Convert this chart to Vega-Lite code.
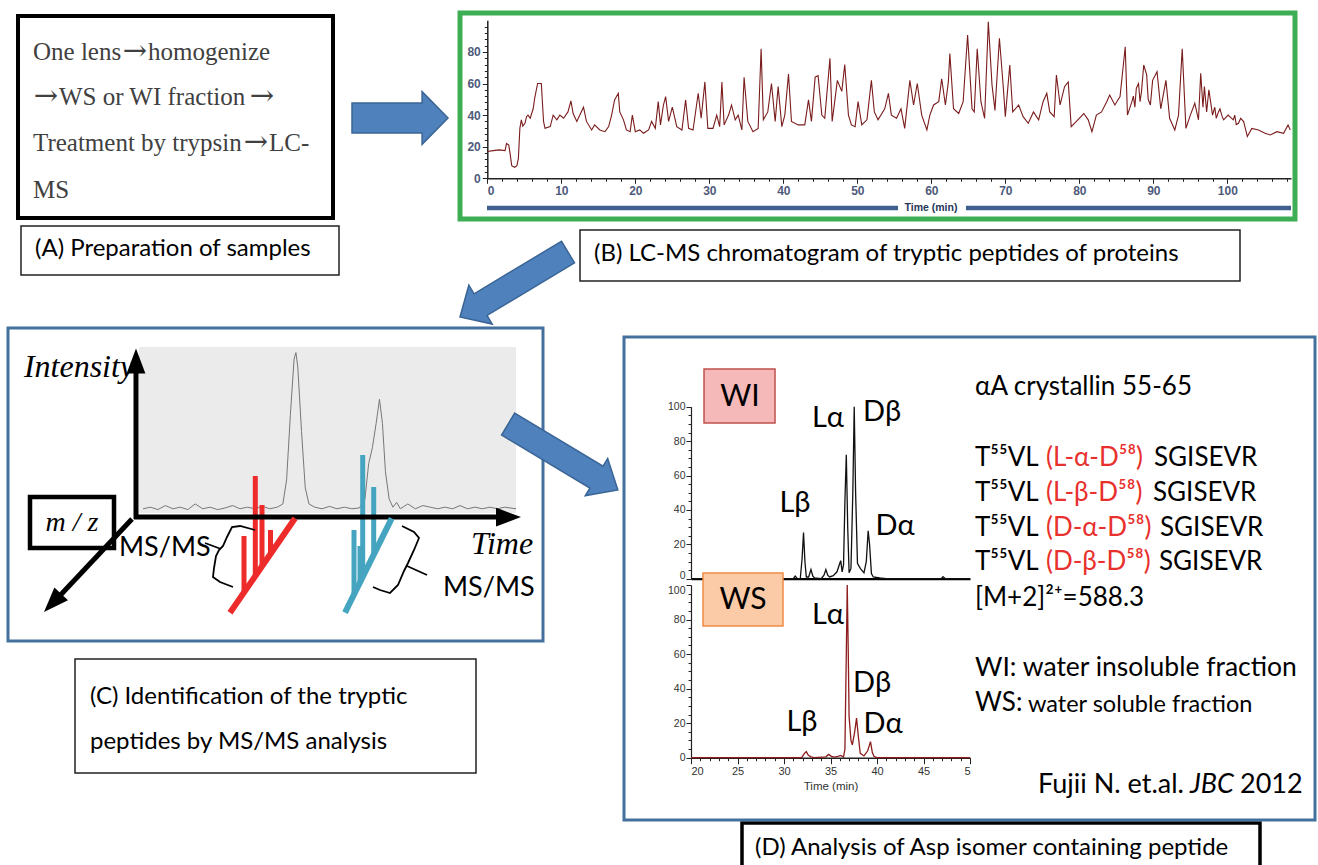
{
"$schema":"https://vega.github.io/schema/vega-lite/v6.json",
"width":1318,"height":865,"padding":0,
"autosize":{"type":"fit","contains":"padding"},
"background":"white",
"config":{"view":{"stroke":null},"axis":{"grid":false,"labelFont":"Liberation Sans","domainColor":"#222","tickColor":"#222"}},
"datasets":{
"chromB":[{"t":0,"v":17},{"t":0.8,"v":17.5},{"t":1.6,"v":18},{"t":2.4,"v":17.5},{"t":2.6,"v":22},{"t":2.9,"v":21},{"t":3.1,"v":15},{"t":3.3,"v":8},{"t":3.7,"v":7},{"t":4.0,"v":8},{"t":4.2,"v":12.6},{"t":4.4,"v":31.6},{"t":4.6,"v":37},{"t":4.8,"v":33},{"t":5.1,"v":35},{"t":5.3,"v":39},{"t":5.5,"v":40},{"t":5.8,"v":38},{"t":6.2,"v":44},{"t":6.4,"v":50.6},{"t":6.8,"v":60},{"t":7.3,"v":60},{"t":7.6,"v":36},{"t":7.8,"v":31.6},{"t":8.5,"v":32.7},{"t":8.9,"v":40},{"t":9.4,"v":37},{"t":9.8,"v":40},{"t":10.3,"v":38},{"t":10.9,"v":42},{"t":11.3,"v":49},{"t":11.6,"v":41},{"t":12.1,"v":36},{"t":12.5,"v":40},{"t":13.0,"v":45},{"t":13.4,"v":36},{"t":14.1,"v":30.6},{"t":14.5,"v":33.8},{"t":15.2,"v":30.6},{"t":15.9,"v":29.5},{"t":16.4,"v":32.7},{"t":16.8,"v":40},{"t":17.2,"v":49.6},{"t":17.7,"v":53.8},{"t":17.9,"v":42},{"t":18.4,"v":37},{"t":18.8,"v":30.6},{"t":19.3,"v":29.5},{"t":19.6,"v":40},{"t":20.0,"v":29.5},{"t":20.6,"v":30.6},{"t":21.1,"v":28.5},{"t":21.8,"v":30.6},{"t":22.2,"v":36},{"t":22.7,"v":31.6},{"t":23.1,"v":48.5},{"t":23.4,"v":33.8},{"t":23.8,"v":46.4},{"t":24.1,"v":51.7},{"t":24.5,"v":36},{"t":25.0,"v":45},{"t":25.6,"v":32.7},{"t":26.3,"v":30.6},{"t":26.8,"v":49.6},{"t":27.2,"v":31.6},{"t":27.8,"v":30.6},{"t":28.5,"v":53.8},{"t":28.9,"v":38},{"t":29.4,"v":61},{"t":29.8,"v":31.6},{"t":30.5,"v":31.6},{"t":31.0,"v":40},{"t":31.4,"v":32.7},{"t":31.7,"v":61},{"t":32.0,"v":33.8},{"t":32.6,"v":40},{"t":33.0,"v":46.4},{"t":33.5,"v":37},{"t":33.9,"v":40},{"t":34.4,"v":30.6},{"t":34.7,"v":64},{"t":35.2,"v":36},{"t":35.9,"v":29.5},{"t":36.6,"v":31.6},{"t":37.0,"v":82},{"t":37.3,"v":37},{"t":37.9,"v":42},{"t":38.4,"v":60},{"t":38.9,"v":36},{"t":39.3,"v":58},{"t":39.8,"v":32.7},{"t":40.2,"v":40},{"t":40.7,"v":66},{"t":41.1,"v":36},{"t":42.0,"v":33.8},{"t":42.9,"v":33.8},{"t":43.4,"v":49.6},{"t":43.8,"v":36},{"t":44.3,"v":64},{"t":44.7,"v":65},{"t":45.2,"v":40},{"t":45.6,"v":38},{"t":46.3,"v":76},{"t":46.6,"v":36},{"t":47.0,"v":50.6},{"t":47.3,"v":62},{"t":47.9,"v":55},{"t":48.3,"v":72},{"t":48.8,"v":40},{"t":49.2,"v":33.8},{"t":49.7,"v":32.7},{"t":50.1,"v":48.5},{"t":50.6,"v":33.8},{"t":51.3,"v":37},{"t":51.9,"v":62},{"t":52.3,"v":42},{"t":52.8,"v":37},{"t":53.7,"v":44},{"t":54.2,"v":53.8},{"t":54.6,"v":40},{"t":55.3,"v":38},{"t":55.9,"v":44},{"t":56.4,"v":31.6},{"t":57.1,"v":62},{"t":57.6,"v":46.4},{"t":58.1,"v":60},{"t":58.7,"v":40},{"t":59.4,"v":30.6},{"t":59.8,"v":40},{"t":60.3,"v":46.4},{"t":61.0,"v":48.5},{"t":61.4,"v":63},{"t":61.9,"v":46.4},{"t":62.3,"v":61},{"t":62.5,"v":79},{"t":63.0,"v":44},{"t":63.7,"v":41},{"t":64.3,"v":48.5},{"t":64.9,"v":90.7},{"t":65.5,"v":44},{"t":65.8,"v":42},{"t":66.2,"v":82},{"t":66.7,"v":48.5},{"t":67.2,"v":38},{"t":67.7,"v":99},{"t":68.2,"v":59},{"t":68.6,"v":43},{"t":69.2,"v":88.6},{"t":69.7,"v":59},{"t":70.0,"v":39},{"t":70.6,"v":71.7},{"t":71.0,"v":42},{"t":71.8,"v":46.4},{"t":72.4,"v":39},{"t":73.1,"v":34.8},{"t":73.8,"v":42},{"t":74.5,"v":37},{"t":75.1,"v":48.5},{"t":75.6,"v":53.8},{"t":76.0,"v":42},{"t":76.6,"v":39},{"t":76.9,"v":65.4},{"t":77.4,"v":46.4},{"t":78.0,"v":58},{"t":78.5,"v":61},{"t":78.9,"v":32.7},{"t":79.6,"v":36},{"t":80.6,"v":41},{"t":81.2,"v":37},{"t":81.7,"v":29.5},{"t":82.3,"v":40},{"t":83.0,"v":42},{"t":83.7,"v":48.5},{"t":84.1,"v":52.7},{"t":84.8,"v":46.4},{"t":85.5,"v":51.7},{"t":86.2,"v":83.3},{"t":86.5,"v":40},{"t":87.1,"v":48.5},{"t":87.3,"v":52},{"t":87.5,"v":45},{"t":87.7,"v":57},{"t":88.0,"v":60},{"t":88.2,"v":48.5},{"t":88.4,"v":55},{"t":88.7,"v":71.7},{"t":89.1,"v":65.4},{"t":89.3,"v":50},{"t":89.6,"v":46.4},{"t":89.9,"v":62},{"t":90.5,"v":67.5},{"t":91.0,"v":44},{"t":91.7,"v":62},{"t":92.2,"v":38},{"t":92.9,"v":30.6},{"t":93.4,"v":40},{"t":93.9,"v":82},{"t":94.4,"v":31.6},{"t":95.0,"v":40},{"t":95.6,"v":47.5},{"t":96.1,"v":37},{"t":96.4,"v":66.5},{"t":96.7,"v":45},{"t":96.9,"v":58},{"t":97.2,"v":42},{"t":97.5,"v":56},{"t":98.0,"v":40},{"t":98.3,"v":45},{"t":98.5,"v":38},{"t":98.8,"v":42},{"t":99.0,"v":44},{"t":99.3,"v":39},{"t":99.5,"v":37},{"t":100.1,"v":40},{"t":100.8,"v":37},{"t":101.0,"v":40},{"t":101.2,"v":34},{"t":101.5,"v":34.8},{"t":101.8,"v":38},{"t":102.2,"v":35.9},{"t":102.7,"v":26.4},{"t":103.3,"v":31.6},{"t":104.2,"v":30.6},{"t":105.1,"v":28.5},{"t":105.8,"v":27.4},{"t":106.7,"v":29.5},{"t":107.6,"v":28.5},{"t":108.2,"v":33.8},{"t":108.5,"v":30.6}],
"wi":[{"t":20,"v":0},{"t":31.0,"v":0},{"t":31.2,"v":1.5},{"t":31.45,"v":0},{"t":31.75,"v":0},{"t":31.95,"v":12},{"t":32.1,"v":26.8},{"t":32.25,"v":10},{"t":32.4,"v":1},{"t":32.65,"v":1},{"t":32.9,"v":5.3},{"t":33.1,"v":1.5},{"t":33.3,"v":0.4},{"t":34.0,"v":0},{"t":34.3,"v":2},{"t":34.5,"v":5.3},{"t":34.7,"v":2},{"t":34.9,"v":1},{"t":35.3,"v":1.8},{"t":35.7,"v":4},{"t":36.0,"v":9},{"t":36.1,"v":10.5},{"t":36.25,"v":4},{"t":36.4,"v":8},{"t":36.55,"v":45},{"t":36.7,"v":72},{"t":36.85,"v":30},{"t":37.0,"v":3.4},{"t":37.2,"v":6},{"t":37.4,"v":50},{"t":37.55,"v":100},{"t":37.7,"v":50},{"t":37.9,"v":9},{"t":38.2,"v":6},{"t":38.6,"v":3.4},{"t":38.85,"v":10},{"t":39.05,"v":27.9},{"t":39.2,"v":20},{"t":39.4,"v":3},{"t":39.6,"v":1},{"t":40.3,"v":0.4},{"t":41,"v":0},{"t":46.9,"v":0},{"t":47.1,"v":1.2},{"t":47.35,"v":0},{"t":50,"v":0}],
"ws":[{"t":20,"v":0},{"t":31.9,"v":0},{"t":32.2,"v":2.5},{"t":32.4,"v":3.5},{"t":32.6,"v":1.5},{"t":32.9,"v":0.5},{"t":33.2,"v":0},{"t":34.5,"v":0.5},{"t":34.8,"v":1.9},{"t":35.1,"v":0.8},{"t":35.4,"v":0.3},{"t":35.8,"v":0.8},{"t":36.1,"v":1.3},{"t":36.4,"v":0.4},{"t":36.55,"v":5},{"t":36.7,"v":60},{"t":36.8,"v":100},{"t":36.9,"v":65},{"t":37.0,"v":23.8},{"t":37.2,"v":10},{"t":37.35,"v":7.4},{"t":37.6,"v":15},{"t":37.8,"v":22.9},{"t":38.0,"v":12},{"t":38.2,"v":2.5},{"t":38.6,"v":1},{"t":39.0,"v":4},{"t":39.3,"v":9.3},{"t":39.5,"v":3},{"t":39.7,"v":0.6},{"t":40,"v":0},{"t":50,"v":0}],
"traceC":[{"t":0,"v":2},{"t":2,"v":3},{"t":4,"v":1.5},{"t":6,"v":4},{"t":8,"v":2},{"t":10,"v":3},{"t":12,"v":1.5},{"t":14,"v":5},{"t":16,"v":2},{"t":18,"v":3},{"t":20,"v":1.5},{"t":22,"v":2.5},{"t":24,"v":4},{"t":26,"v":2},{"t":28,"v":3},{"t":30,"v":2},{"t":32,"v":3.5},{"t":34,"v":2},{"t":36,"v":3},{"t":37.5,"v":5},{"t":38.5,"v":20},{"t":39.5,"v":60},{"t":40.5,"v":95},{"t":41,"v":99},{"t":41.5,"v":90},{"t":42.5,"v":50},{"t":43.5,"v":15},{"t":44.5,"v":5},{"t":46,"v":3},{"t":48,"v":2},{"t":50,"v":3.5},{"t":52,"v":2},{"t":54,"v":3},{"t":56,"v":2},{"t":58,"v":2.5},{"t":59.5,"v":8},{"t":60.5,"v":30},{"t":61.5,"v":40},{"t":62.5,"v":55},{"t":63.4,"v":70},{"t":64.2,"v":55},{"t":65,"v":25},{"t":66,"v":8},{"t":67,"v":3},{"t":68,"v":6},{"t":69,"v":2},{"t":71,"v":5},{"t":73,"v":2},{"t":75,"v":4},{"t":77,"v":3},{"t":79,"v":2},{"t":81,"v":3},{"t":83,"v":2},{"t":85,"v":4},{"t":87,"v":2},{"t":89,"v":3},{"t":91,"v":2},{"t":93,"v":3},{"t":95,"v":2},{"t":97,"v":3},{"t":100,"v":2}]
},
"layer":[
{
"encoding":{"x":{"field":"x","type":"quantitative","scale":{"domain":[0,1318],"range":[0,1318],"nice":false,"zero":false},"axis":null},"y":{"field":"y","type":"quantitative","scale":{"domain":[0,865],"range":[0,865],"nice":false,"zero":false},"axis":null}},
"layer":[
{"data":{"values":[{"x":460,"y":13,"x2":1295,"y2":219}]},"mark":{"type":"rect","fill":"transparent","stroke":"#3eae55","strokeWidth":5},"encoding":{"x2":{"field":"x2"},"y2":{"field":"y2"}}},
{"data":{"values":[{"x":18,"y":16,"x2":333,"y2":218}]},"mark":{"type":"rect","fill":"transparent","stroke":"#000000","strokeWidth":4},"encoding":{"x2":{"field":"x2"},"y2":{"field":"y2"}}},
{"data":{"values":[{"x":21,"y":226,"x2":339,"y2":275},{"x":580,"y":230,"x2":1240,"y2":281},{"x":75,"y":659,"x2":476,"y2":773}]},"mark":{"type":"rect","fill":"transparent","stroke":"#222222","strokeWidth":1.5},"encoding":{"x2":{"field":"x2"},"y2":{"field":"y2"}}},
{"data":{"values":[{"x":742,"y":823,"x2":1260,"y2":880}]},"mark":{"type":"rect","fill":"transparent","stroke":"#000000","strokeWidth":3.5,"clip":true},"encoding":{"x2":{"field":"x2"},"y2":{"field":"y2"}}},
{"data":{"values":[{"x":8,"y":328,"x2":543,"y2":641},{"x":624,"y":337,"x2":1315,"y2":820}]},"mark":{"type":"rect","fill":"transparent","stroke":"#44709d","strokeWidth":3},"encoding":{"x2":{"field":"x2"},"y2":{"field":"y2"}}},
{"data":{"values":[{"x":139,"y":347,"x2":516,"y2":513}]},"mark":{"type":"rect","fill":"#ebebeb"},"encoding":{"x2":{"field":"x2"},"y2":{"field":"y2"}}}
]
},
{
"data":{"name":"chromB"},
"encoding":{"x":{"field":"t","type":"quantitative","scale":{"domain":[0,108.6],"range":[487.3,1291],"nice":false,"zero":false},"axis":{"title":null,"orient":"bottom","offset":-686.7,"values":[0,10,20,30,40,50,60,70,80,90,100],"tickSize":5,"labelFontSize":12,"labelFontWeight":"bold","labelColor":"#4e5a7c","labelPadding":2,"domainWidth":1.5}},
"y":{"field":"v","type":"quantitative","scale":{"domain":[0,100],"range":[178.3,20.3],"nice":false,"zero":false},"axis":{"title":null,"orient":"left","offset":-487.3,"values":[0,20,40,60,80],"tickSize":5,"labelFontSize":12,"labelFontWeight":"bold","labelColor":"#4e5a7c","labelPadding":2,"domainWidth":1.5}}},
"layer":[{"mark":{"type":"line","color":"#7a1c1c","strokeWidth":1.1}}]
},
{
"data":{"name":"chromB"},
"encoding":{"x":{"field":"t","type":"quantitative","scale":{"domain":[0,108.6],"range":[487.3,1291],"nice":false,"zero":false},"axis":{"title":null,"orient":"bottom","offset":-686.7,"values":[2,4,6,8,12,14,16,18,22,24,26,28,32,34,36,38,42,44,46,48,52,54,56,58,62,64,66,68,72,74,76,78,82,84,86,88,92,94,96,98,102,104,106,108],"tickSize":3,"labels":false,"domain":false}},
"y":{"field":"v","type":"quantitative","scale":{"domain":[0,100],"range":[178.3,20.3],"nice":false,"zero":false},"axis":{"title":null,"orient":"left","offset":-487.3,"values":[4,8,12,16,24,28,32,36,44,48,52,56,64,68,72,76,84,88,92,96],"tickSize":3,"labels":false,"domain":false}}},
"layer":[{"mark":{"type":"line","opacity":0}}]
},
{
"data":{"name":"traceC"},
"encoding":{"x":{"field":"t","type":"quantitative","scale":{"domain":[0,100],"range":[143,516],"nice":false,"zero":false},"axis":null},"y":{"field":"v","type":"quantitative","scale":{"domain":[0,100],"range":[512,351],"nice":false,"zero":false},"axis":null}},
"layer":[{"mark":{"type":"line","color":"#777777","strokeWidth":1}}]
},
{
"data":{"name":"wi"},
"encoding":{"x":{"field":"t","type":"quantitative","scale":{"domain":[20,50],"range":[691,970],"nice":false,"zero":false},"axis":{"title":null,"orient":"bottom","offset":-286.3,"ticks":false,"labels":false,"domainWidth":2.2,"domainColor":"#000000"}},
"y":{"field":"v","type":"quantitative","scale":{"domain":[0,100],"range":[578.7,406.7],"nice":false,"zero":false},"axis":{"title":null,"orient":"left","offset":-691,"values":[0,20,40,60,80,100],"tickSize":5,"labelFontSize":10.5,"labelColor":"#333333","labelPadding":1,"domainWidth":1.2,"labelBaseline":{"condition":{"test":"datum.value == 0","value":"alphabetic"},"value":"middle"}}}},
"layer":[{"mark":{"type":"line","color":"#111111","strokeWidth":1.3}}]
},
{
"data":{"name":"wi"},
"encoding":{"x":{"field":"t","type":"quantitative","scale":{"domain":[20,50],"range":[691,970],"nice":false,"zero":false},"axis":null},
"y":{"field":"v","type":"quantitative","scale":{"domain":[0,100],"range":[578.7,406.7],"nice":false,"zero":false},"axis":{"title":null,"orient":"left","offset":-691,"values":[5,10,15,25,30,35,45,50,55,65,70,75,85,90,95],"tickSize":3,"labels":false,"domain":false}}},
"layer":[{"mark":{"type":"line","opacity":0}}]
},
{
"data":{"name":"ws"},
"encoding":{"x":{"field":"t","type":"quantitative","scale":{"domain":[20,50],"range":[691,970],"nice":false,"zero":false},"axis":{"title":"Time (min)","orient":"bottom","offset":-107.3,"values":[20,25,30,35,40,45,50],"labelExpr":"datum.value == 50 ? '5' : datum.label","tickSize":6,"labelFontSize":11,"labelColor":"#333333","labelPadding":2,"domainWidth":1.5,"titleFont":"Liberation Sans","titleFontSize":11.5,"titleFontWeight":"normal","titleColor":"#333333","titlePadding":4}},
"y":{"field":"v","type":"quantitative","scale":{"domain":[0,100],"range":[757.7,585],"nice":false,"zero":false},"axis":{"title":null,"orient":"left","offset":-691,"values":[0,20,40,60,80,100],"tickSize":5,"labelFontSize":10.5,"labelColor":"#333333","labelPadding":1,"domainWidth":1.2,"labelBaseline":{"condition":{"test":"datum.value == 100","value":"top"},"value":"middle"}}}},
"layer":[{"mark":{"type":"line","color":"#8c1c1c","strokeWidth":1.3}}]
},
{
"data":{"name":"ws"},
"encoding":{"x":{"field":"t","type":"quantitative","scale":{"domain":[20,50],"range":[691,970],"nice":false,"zero":false},"axis":{"title":null,"orient":"bottom","offset":-107.3,"values":[21,22,23,24,26,27,28,29,31,32,33,34,36,37,38,39,41,42,43,44,46,47,48,49],"tickSize":3,"labels":false,"domain":false}},
"y":{"field":"v","type":"quantitative","scale":{"domain":[0,100],"range":[757.7,585],"nice":false,"zero":false},"axis":{"title":null,"orient":"left","offset":-691,"values":[5,10,15,25,30,35,45,50,55,65,70,75,85,90,95],"tickSize":3,"labels":false,"domain":false}}},
"layer":[{"mark":{"type":"line","opacity":0}}]
},
{
"encoding":{"x":{"field":"x","type":"quantitative","scale":{"domain":[0,1318],"range":[0,1318],"nice":false,"zero":false},"axis":null},"y":{"field":"y","type":"quantitative","scale":{"domain":[0,865],"range":[0,865],"nice":false,"zero":false},"axis":null}},
"layer":[
{"data":{"values":[{"x":704,"y":369,"x2":775,"y2":423}]},"mark":{"type":"rect","fill":"#f6b9b9","stroke":"#c0504d","strokeWidth":1.5},"encoding":{"x2":{"field":"x2"},"y2":{"field":"y2"}}},
{"data":{"values":[{"x":703,"y":573,"x2":783,"y2":626}]},"mark":{"type":"rect","fill":"#fbcaa6","stroke":"#f08c45","strokeWidth":1.5},"encoding":{"x2":{"field":"x2"},"y2":{"field":"y2"}}},
{"data":{"values":[{"x":30,"y":497,"x2":114,"y2":548}]},"mark":{"type":"rect","fill":"#ffffff","stroke":"#000000","strokeWidth":4.5},"encoding":{"x2":{"field":"x2"},"y2":{"field":"y2"}}},
{"data":{"values":[{"x":487,"y":208,"x2":898,"y2":208},{"x":966,"y":208,"x2":1291,"y2":208}]},"mark":{"type":"rule","color":"#3e5f8f","strokeWidth":4.5},"encoding":{"x2":{"field":"x2"},"y2":{"field":"y2"}}},
{"data":{"values":[{"x":255.3,"y":476,"x2":255.3,"y2":576},{"x":262,"y":505,"x2":262,"y2":566},{"x":270.5,"y":530,"x2":270.5,"y2":554},{"x":244,"y":536,"x2":244,"y2":593}]},"mark":{"type":"rule","color":"#ee2b2b","strokeWidth":5},"encoding":{"x2":{"field":"x2"},"y2":{"field":"y2"}}},
{"data":{"values":[{"x":362.7,"y":455,"x2":362.7,"y2":577},{"x":373.7,"y":487,"x2":373.7,"y2":555},{"x":354,"y":530,"x2":354,"y2":594},{"x":360,"y":546,"x2":360,"y2":582}]},"mark":{"type":"rule","color":"#45a4bf","strokeWidth":5},"encoding":{"x2":{"field":"x2"},"y2":{"field":"y2"}}},
{"data":{"values":[{"x":136,"y":519,"x2":136,"y2":360},{"x":134,"y":517,"x2":508,"y2":517},{"x":132,"y":519,"x2":53,"y2":603}]},"mark":{"type":"rule","color":"#000000","strokeWidth":5},"encoding":{"x2":{"field":"x2"},"y2":{"field":"y2"}}},
{"data":{"values":[{"x":230,"y":612.7,"x2":295,"y2":518.3}]},"mark":{"type":"rule","color":"#ee2b2b","strokeWidth":6},"encoding":{"x2":{"field":"x2"},"y2":{"field":"y2"}}},
{"data":{"values":[{"x":345,"y":612.7,"x2":391.7,"y2":518.3}]},"mark":{"type":"rule","color":"#45a4bf","strokeWidth":6},"encoding":{"x2":{"field":"x2"},"y2":{"field":"y2"}}},
{"data":{"values":[{"x":136,"y":361}]},"mark":{"type":"point","shape":"M-1,-0.75L1,0L-1,0.75Z","size":625,"angle":270,"filled":true,"fill":"#000000","strokeWidth":0,"opacity":1}},
{"data":{"values":[{"x":508.5,"y":517}]},"mark":{"type":"point","shape":"M-1,-0.75L1,0L-1,0.75Z","size":625,"angle":0,"filled":true,"fill":"#000000","strokeWidth":0,"opacity":1}},
{"data":{"values":[{"x":52.6,"y":602.9}]},"mark":{"type":"point","shape":"M-1,-0.75L1,0L-1,0.75Z","size":625,"angle":133.4,"filled":true,"fill":"#000000","strokeWidth":0,"opacity":1}},
{"data":{"values":[{"g":"a","i":0,"x":255,"y":530},{"g":"a","i":1,"x":240,"y":526},{"g":"a","i":2,"x":232,"y":527},{"g":"a","i":3,"x":227,"y":537},{"g":"a","i":4,"x":223,"y":546},{"g":"a","i":5,"x":219,"y":550},{"g":"a","i":6,"x":216,"y":556},{"g":"a","i":7,"x":214,"y":568},{"g":"a","i":8,"x":213,"y":577},{"g":"a","i":9,"x":220,"y":582},{"g":"a","i":10,"x":233,"y":587},{"g":"b","i":0,"x":205,"y":543},{"g":"b","i":1,"x":221,"y":549},{"g":"c","i":0,"x":402,"y":526},{"g":"c","i":1,"x":414,"y":532},{"g":"c","i":2,"x":419,"y":538},{"g":"c","i":3,"x":414,"y":550},{"g":"c","i":4,"x":408,"y":563},{"g":"c","i":5,"x":404,"y":571},{"g":"c","i":6,"x":398,"y":585},{"g":"c","i":7,"x":390,"y":593},{"g":"c","i":8,"x":380,"y":590},{"g":"c","i":9,"x":373,"y":587},{"g":"d","i":0,"x":407,"y":566},{"g":"d","i":1,"x":427,"y":575}]},"mark":{"type":"line","color":"#000000","strokeWidth":1.8},"encoding":{"detail":{"field":"g"},"order":{"field":"i"}}},
{"data":{"values":[{"x":400,"y":118}]},"mark":{"type":"point","shape":"M-1,-0.31L0.46,-0.31L0.46,-0.55L1,0L0.46,0.55L0.46,0.31L-1,0.31Z","size":9216,"angle":0,"filled":true,"fill":"#4f81bd","stroke":"#3a6595","strokeWidth":1.5,"opacity":1}},
{"data":{"values":[{"x":514,"y":284.5}]},"mark":{"type":"point","shape":"M-1,-0.2L0.62,-0.2L0.62,-0.36L1,0L0.62,0.36L0.62,0.2L-1,0.2Z","size":15876,"angle":149,"filled":true,"fill":"#4f81bd","stroke":"#3a6595","strokeWidth":1.5,"opacity":1}},
{"data":{"values":[{"x":563,"y":457}]},"mark":{"type":"point","shape":"M-1,-0.2L0.61,-0.2L0.61,-0.34L1,0L0.61,0.34L0.61,0.2L-1,0.2Z","size":16384,"angle":31,"filled":true,"fill":"#4f81bd","stroke":"#3a6595","strokeWidth":1.5,"opacity":1}},
{"data":{"values":[{"x":33,"y":52,"text":"One lens"},{"x":148,"y":52,"text":"homogenize"},{"x":59,"y":97,"text":"WS or WI fraction"},{"x":33,"y":143,"text":"Treatment by trypsin"},{"x":269,"y":143,"text":"LC-"},{"x":33,"y":190,"text":"MS"}]},"mark":{"type":"text","align":"left","baseline":"middle","font":"Liberation Serif","fontSize":25,"fill":"#404040"},"encoding":{"text":{"field":"text"}}},
{"data":{"values":[{"x":135,"y":51,"text":"→"},{"x":46,"y":96,"text":"→"},{"x":262,"y":96,"text":"→"},{"x":256,"y":142,"text":"→"}]},"mark":{"type":"text","align":"center","baseline":"middle","font":"DejaVu Serif","fontSize":29,"fill":"#404040"},"encoding":{"text":{"field":"text"}}},
{"data":{"values":[{"x":35,"y":249,"text":"(A) Preparation of samples"},{"x":594,"y":254,"text":"(B) LC-MS chromatogram of tryptic peptides of  proteins"},{"x":90,"y":697,"text":"(C) Identification of the tryptic"},{"x":90,"y":742,"text":"peptides by MS/MS analysis"},{"x":755,"y":848,"text":"(D) Analysis of Asp isomer containing peptide"}]},"mark":{"type":"text","align":"left","baseline":"middle","font":"Lato","fontSize":24,"fill":"#000000"},"encoding":{"text":{"field":"text"}}},
{"data":{"values":[{"x":931,"y":208,"text":"Time (min)"}]},"mark":{"type":"text","align":"center","baseline":"middle","font":"Liberation Sans","fontWeight":"bold","fontSize":10.5,"fill":"#24365a"},"encoding":{"text":{"field":"text"}}},
{"data":{"values":[{"x":79,"y":367,"text":"Intensity"},{"x":502,"y":544,"text":"Time"}]},"mark":{"type":"text","align":"center","baseline":"middle","font":"Liberation Serif","fontStyle":"italic","fontSize":32,"fill":"#000000"},"encoding":{"text":{"field":"text"}}},
{"data":{"values":[{"x":72,"y":523,"text":"m / z"}]},"mark":{"type":"text","align":"center","baseline":"middle","font":"Liberation Serif","fontStyle":"italic","fontSize":28,"fill":"#000000"},"encoding":{"text":{"field":"text"}}},
{"data":{"values":[{"x":119,"y":548,"text":"MS/MS"},{"x":443,"y":588,"text":"MS/MS"}]},"mark":{"type":"text","align":"left","baseline":"middle","font":"Lato","fontSize":27,"fill":"#000000"},"encoding":{"text":{"field":"text"}}},
{"data":{"values":[{"x":740,"y":397,"text":"WI"},{"x":743,"y":600,"text":"WS"}]},"mark":{"type":"text","align":"center","baseline":"middle","font":"Lato","fontSize":30,"fill":"#000000"},"encoding":{"text":{"field":"text"}}},
{"data":{"values":[{"x":795,"y":503,"text":"Lβ"},{"x":828,"y":418,"text":"Lα"},{"x":882,"y":412,"text":"Dβ"},{"x":895,"y":526,"text":"Dα"},{"x":802,"y":722,"text":"Lβ"},{"x":828,"y":615,"text":"Lα"},{"x":872,"y":683,"text":"Dβ"},{"x":883,"y":724,"text":"Dα"}]},"mark":{"type":"text","align":"center","baseline":"middle","font":"Lato","fontSize":29,"fill":"#000000"},"encoding":{"text":{"field":"text"}}},
{"data":{"values":[{"x":975,"y":387,"text":"αA crystallin 55-65"},{"x":975,"y":458,"text":"T⁵⁵VL"},{"x":975,"y":493,"text":"T⁵⁵VL"},{"x":975,"y":528,"text":"T⁵⁵VL"},{"x":975,"y":562,"text":"T⁵⁵VL"},{"x":1154,"y":458,"text":"SGISEVR"},{"x":1153,"y":493,"text":"SGISEVR"},{"x":1160,"y":528,"text":"SGISEVR"},{"x":1159,"y":562,"text":"SGISEVR"},{"x":975,"y":598,"text":"[M+2]²⁺=588.3"},{"x":975,"y":703,"text":"WS:"}]},"mark":{"type":"text","align":"left","baseline":"middle","font":"Lato","fontSize":26,"fill":"#000000"},"encoding":{"text":{"field":"text"}}},
{"data":{"values":[{"x":1038,"y":785,"text":"Fujii N. et.al."},{"x":1240,"y":785,"text":"2012"}]},"mark":{"type":"text","align":"left","baseline":"middle","font":"Lato","fontSize":27,"fill":"#000000"},"encoding":{"text":{"field":"text"}}},
{"data":{"values":[{"x":1190,"y":785,"text":"JBC"}]},"mark":{"type":"text","align":"left","baseline":"middle","font":"Lato","fontStyle":"italic","fontSize":27,"fill":"#000000"},"encoding":{"text":{"field":"text"}}},
{"data":{"values":[{"x":1046,"y":458,"text":"(L-α-D⁵⁸)"},{"x":1046,"y":493,"text":"(L-β-D⁵⁸)"},{"x":1046,"y":528,"text":"(D-α-D⁵⁸)"},{"x":1046,"y":562,"text":"(D-β-D⁵⁸)"}]},"mark":{"type":"text","align":"left","baseline":"middle","font":"Lato","fontSize":26,"fill":"#e8302c"},"encoding":{"text":{"field":"text"}}},
{"data":{"values":[{"x":975,"y":668,"text":"WI: water insoluble fraction"}]},"mark":{"type":"text","align":"left","baseline":"middle","font":"Lato","fontSize":26.5,"fill":"#000000"},"encoding":{"text":{"field":"text"}}},
{"data":{"values":[{"x":1028,"y":705,"text":"water soluble fraction"}]},"mark":{"type":"text","align":"left","baseline":"middle","font":"Lato","fontSize":23.5,"fill":"#000000"},"encoding":{"text":{"field":"text"}}}
]
}
],
"resolve":{"scale":{"x":"independent","y":"independent"},"axis":{"x":"independent","y":"independent"}}
}
